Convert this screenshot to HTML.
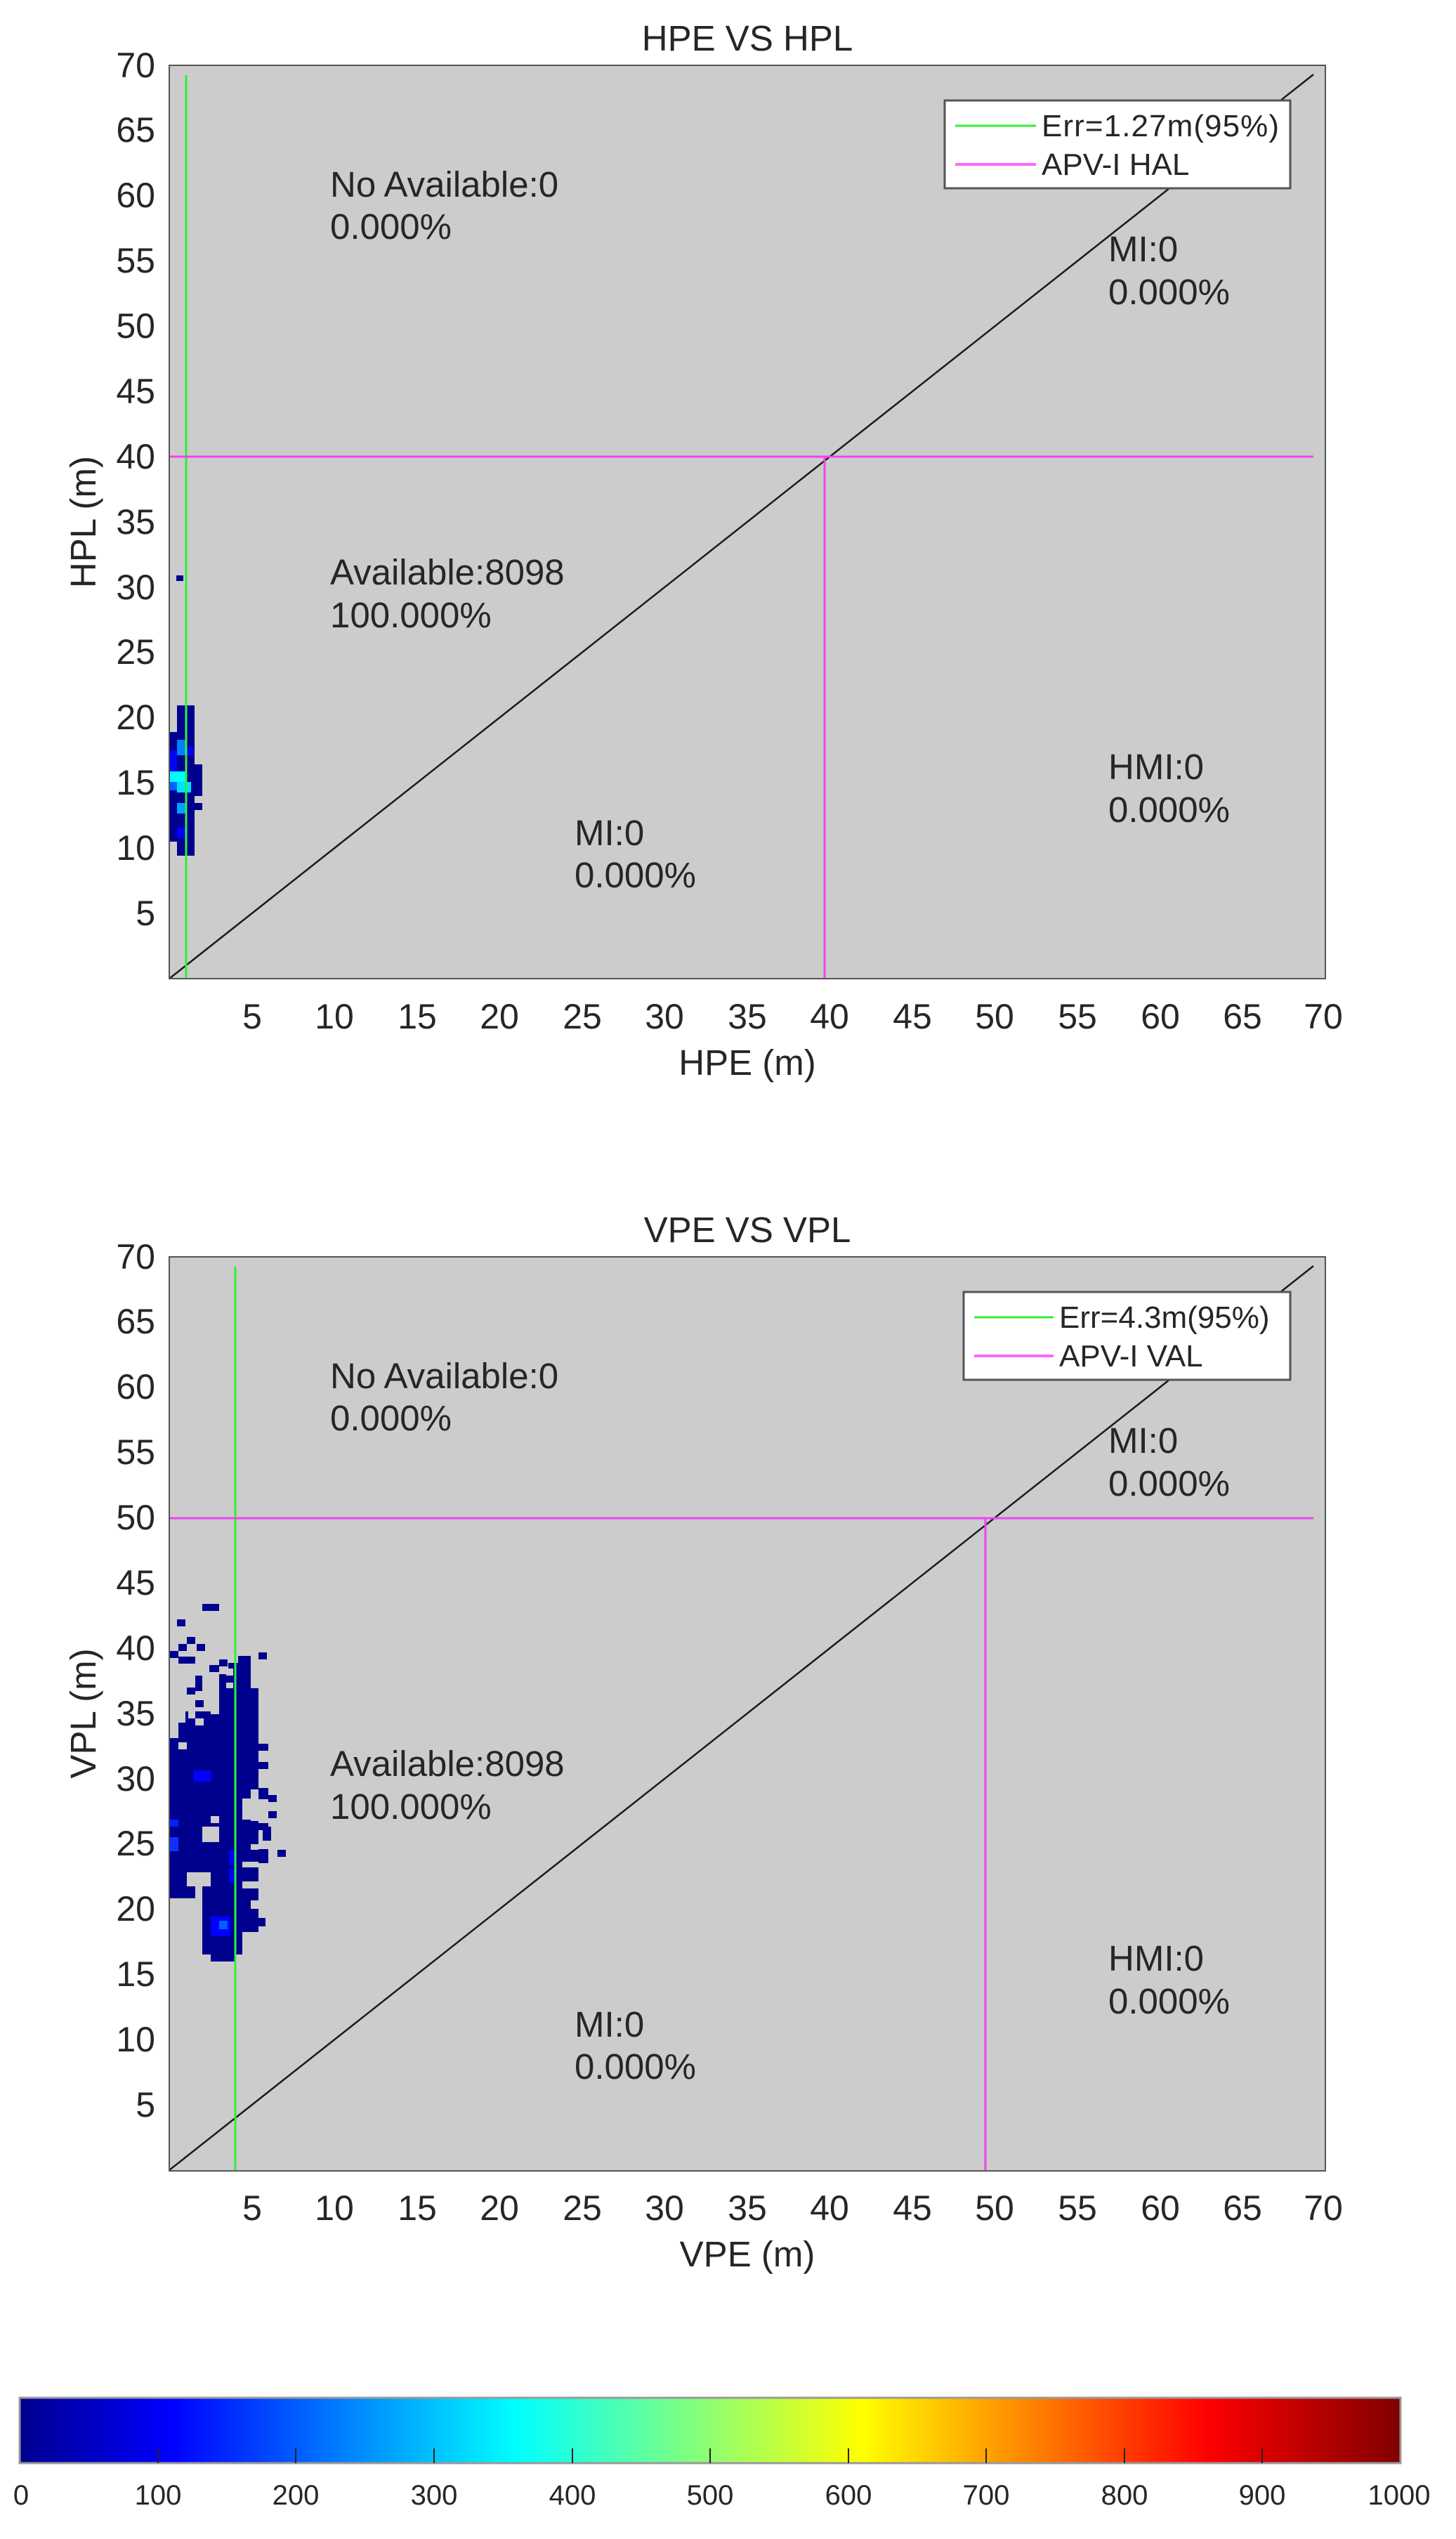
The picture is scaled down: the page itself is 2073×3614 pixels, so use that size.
<!DOCTYPE html>
<html><head><meta charset="utf-8"><style>
html,body{margin:0;padding:0;background:#fff;}
svg text{font-family:"Liberation Sans",Arial,sans-serif;fill:#262626;}
</style></head><body>
<svg width="2073" height="3609" viewBox="0 0 2073 3609" xmlns="http://www.w3.org/2000/svg">
<defs>
<linearGradient id="jet" x1="0" x2="1" y1="0" y2="0">
<stop offset="0" stop-color="#00008f"/>
<stop offset="0.11" stop-color="#0000ff"/>
<stop offset="0.36" stop-color="#00ffff"/>
<stop offset="0.61" stop-color="#ffff00"/>
<stop offset="0.86" stop-color="#ff0000"/>
<stop offset="1" stop-color="#800000"/>
</linearGradient>
<g id="frame">
<rect x="241" y="93" width="1646" height="1300" fill="#cccccc"/>
<g font-size="50" text-anchor="end">
<text x="221" y="1317">5</text><text x="221" y="1224">10</text><text x="221" y="1131">15</text>
<text x="221" y="1038">20</text><text x="221" y="945">25</text><text x="221" y="853">30</text>
<text x="221" y="760">35</text><text x="221" y="667">40</text><text x="221" y="574">45</text>
<text x="221" y="481">50</text><text x="221" y="388">55</text><text x="221" y="295">60</text>
<text x="221" y="202">65</text><text x="221" y="110">70</text>
</g>
<g font-size="50" text-anchor="middle">
<text x="359" y="1464">5</text><text x="476" y="1464">10</text><text x="594" y="1464">15</text>
<text x="711" y="1464">20</text><text x="829" y="1464">25</text><text x="946" y="1464">30</text>
<text x="1064" y="1464">35</text><text x="1181" y="1464">40</text><text x="1299" y="1464">45</text>
<text x="1416" y="1464">50</text><text x="1534" y="1464">55</text><text x="1652" y="1464">60</text>
<text x="1769" y="1464">65</text><text x="1884" y="1464">70</text>
</g>
<line x1="241" y1="1393" x2="1870" y2="106" stroke="#1a1a1a" stroke-width="2.5"/>
<g font-size="51">
<text x="470" y="280">No Available:0</text><text x="470" y="340">0.000%</text>
<text x="470" y="832">Available:8098</text><text x="470" y="893">100.000%</text>
<text x="818" y="1203">MI:0</text><text x="818" y="1263">0.000%</text>
<text x="1578" y="372">MI:0</text><text x="1578" y="433">0.000%</text>
<text x="1578" y="1109">HMI:0</text><text x="1578" y="1170">0.000%</text>
</g>
</g>
</defs>

<!-- Plot 1 -->
<use href="#frame"/>
<text x="1064" y="72" font-size="51" text-anchor="middle">HPE VS HPL</text>
<text x="1064" y="1530" font-size="51" text-anchor="middle">HPE (m)</text>
<text transform="translate(136,743) rotate(-90)" font-size="51" text-anchor="middle">HPL (m)</text>
<g fill="#00008f">
<rect x="252" y="1004" width="25" height="38"/>
<rect x="240" y="1042" width="37" height="156"/>
<rect x="252" y="1198" width="25" height="20"/>
<rect x="277" y="1088" width="11" height="45"/>
<rect x="277" y="1143" width="11" height="10"/>
<rect x="251" y="819" width="10" height="8"/>
</g>
<rect x="240" y="1068" width="12" height="30" fill="#0000ff"/>
<rect x="252" y="1053" width="13" height="22" fill="#0080ff"/>
<rect x="265" y="1063" width="10" height="12" fill="#0000ff"/>
<rect x="240" y="1098" width="25" height="15" fill="#00ffff"/>
<rect x="252" y="1113" width="20" height="15" fill="#00e0ff"/>
<rect x="240" y="1113" width="12" height="12" fill="#0060ff"/>
<rect x="252" y="1143" width="13" height="15" fill="#00a0ff"/>
<rect x="252" y="1178" width="13" height="15" fill="#0000ff"/>
<line x1="265" y1="107" x2="265" y2="1393" stroke="#33ee33" stroke-width="3"/>
<line x1="241" y1="650" x2="1870" y2="650" stroke="#ee44ee" stroke-width="3"/>
<line x1="1174" y1="650" x2="1174" y2="1393" stroke="#ee44ee" stroke-width="3"/>
<rect x="241" y="93" width="1646" height="1300" fill="none" stroke="#555" stroke-width="2"/>
<rect x="1345" y="143" width="492" height="125" fill="#fff" stroke="#555" stroke-width="3"/>
<line x1="1360" y1="179" x2="1475" y2="179" stroke="#33ee33" stroke-width="3"/>
<line x1="1360" y1="234" x2="1475" y2="234" stroke="#ff66ff" stroke-width="4"/>
<text x="1483" y="194" font-size="44" textLength="338">Err=1.27m(95%)</text>
<text x="1483" y="249" font-size="44">APV-I HAL</text>

<!-- Plot 2 -->
<g transform="translate(0,1696)"><use href="#frame"/></g>
<text x="1064" y="1768" font-size="51" text-anchor="middle">VPE VS VPL</text>
<text x="1064" y="3226" font-size="51" text-anchor="middle">VPE (m)</text>
<text transform="translate(136,2439) rotate(-90)" font-size="51" text-anchor="middle">VPL (m)</text>
<g fill="#00008f">
<rect x="325" y="2357" width="32" height="26"/>
<rect x="312" y="2383" width="45" height="20"/>
<rect x="312" y="2403" width="56" height="27"/>
<rect x="300" y="2430" width="68" height="27"/>
<rect x="242" y="2452" width="126" height="250"/>
<rect x="288" y="2702" width="80" height="55"/>
<rect x="288" y="2757" width="57" height="25"/>
<rect x="300" y="2782" width="36" height="10"/>
<rect x="288" y="2283" width="24" height="10"/>
<rect x="252" y="2305" width="12" height="10"/>
<rect x="266" y="2330" width="12" height="10"/>
<rect x="254" y="2340" width="12" height="10"/>
<rect x="280" y="2340" width="12" height="10"/>
<rect x="242" y="2350" width="12" height="10"/>
<rect x="254" y="2358" width="24" height="10"/>
<rect x="278" y="2385" width="10" height="22"/>
<rect x="266" y="2402" width="12" height="10"/>
<rect x="278" y="2420" width="12" height="10"/>
<rect x="312" y="2362" width="12" height="10"/>
<rect x="298" y="2370" width="14" height="10"/>
<rect x="264" y="2436" width="36" height="20"/>
<rect x="368" y="2352" width="12" height="10"/>
<rect x="368" y="2482" width="14" height="10"/>
<rect x="368" y="2508" width="14" height="10"/>
<rect x="368" y="2545" width="14" height="16"/>
<rect x="382" y="2555" width="12" height="10"/>
<rect x="382" y="2578" width="12" height="10"/>
<rect x="368" y="2595" width="14" height="10"/>
<rect x="374" y="2600" width="12" height="20"/>
<rect x="368" y="2632" width="14" height="20"/>
<rect x="395" y="2633" width="12" height="10"/>
<rect x="242" y="2715" width="12" height="10"/>
<rect x="266" y="2715" width="12" height="20"/>
<rect x="368" y="2730" width="10" height="12"/>
</g>
<g fill="#cccccc">
<rect x="242" y="2452" width="12" height="22"/>
<rect x="254" y="2480" width="12" height="10"/>
<rect x="268" y="2436" width="10" height="10"/>
<rect x="278" y="2446" width="12" height="10"/>
<rect x="300" y="2585" width="12" height="10"/>
<rect x="288" y="2600" width="24" height="22"/>
<rect x="266" y="2665" width="34" height="20"/>
<rect x="278" y="2685" width="10" height="17"/>
<rect x="242" y="2702" width="46" height="80"/>
<rect x="357" y="2547" width="11" height="45"/>
<rect x="345" y="2560" width="12" height="30"/>
<rect x="357" y="2625" width="11" height="8"/>
<rect x="345" y="2650" width="23" height="8"/>
<rect x="345" y="2678" width="23" height="10"/>
<rect x="357" y="2705" width="11" height="12"/>
<rect x="345" y="2750" width="23" height="32"/>
<rect x="322" y="2375" width="10" height="10"/>
<rect x="322" y="2395" width="10" height="8"/>
<rect x="325" y="2357" width="14" height="10"/>
<rect x="300" y="2430" width="12" height="10"/>
</g>
<rect x="276" y="2520" width="24" height="16" fill="#0000ff"/>
<rect x="242" y="2590" width="12" height="10" fill="#0020ff"/>
<rect x="242" y="2615" width="12" height="20" fill="#1030ff"/>
<rect x="326" y="2633" width="10" height="22" fill="#0000ff"/>
<rect x="326" y="2660" width="10" height="20" fill="#0000ff"/>
<rect x="300" y="2728" width="28" height="28" fill="#0000ff"/>
<rect x="312" y="2734" width="12" height="12" fill="#0060ff"/>
<line x1="335" y1="1803" x2="335" y2="3090" stroke="#33ee33" stroke-width="3"/>
<line x1="241" y1="2161" x2="1870" y2="2161" stroke="#ee44ee" stroke-width="3"/>
<line x1="1403" y1="2161" x2="1403" y2="3090" stroke="#ee44ee" stroke-width="3"/>
<rect x="241" y="1789" width="1646" height="1301" fill="none" stroke="#555" stroke-width="2"/>
<rect x="1372" y="1839" width="465" height="125" fill="#fff" stroke="#555" stroke-width="3"/>
<line x1="1387" y1="1875" x2="1500" y2="1875" stroke="#33ee33" stroke-width="3"/>
<line x1="1387" y1="1930" x2="1500" y2="1930" stroke="#ff66ff" stroke-width="4"/>
<text x="1508" y="1890" font-size="44">Err=4.3m(95%)</text>
<text x="1508" y="1945" font-size="44">APV-I VAL</text>

<!-- Colorbar -->
<rect x="28" y="3413" width="1966" height="93" fill="url(#jet)" stroke="#999" stroke-width="3"/>
<g stroke="#222" stroke-width="2">
<line x1="225" y1="3485" x2="225" y2="3506"/><line x1="421" y1="3485" x2="421" y2="3506"/>
<line x1="618" y1="3485" x2="618" y2="3506"/><line x1="815" y1="3485" x2="815" y2="3506"/>
<line x1="1011" y1="3485" x2="1011" y2="3506"/><line x1="1208" y1="3485" x2="1208" y2="3506"/>
<line x1="1404" y1="3485" x2="1404" y2="3506"/><line x1="1601" y1="3485" x2="1601" y2="3506"/>
<line x1="1797" y1="3485" x2="1797" y2="3506"/>
</g>
<g font-size="40" text-anchor="middle">
<text x="30" y="3565">0</text><text x="225" y="3565">100</text><text x="421" y="3565">200</text>
<text x="618" y="3565">300</text><text x="815" y="3565">400</text><text x="1011" y="3565">500</text>
<text x="1208" y="3565">600</text><text x="1404" y="3565">700</text><text x="1601" y="3565">800</text>
<text x="1797" y="3565">900</text><text x="1992" y="3565">1000</text>
</g>
</svg>
</body></html>
